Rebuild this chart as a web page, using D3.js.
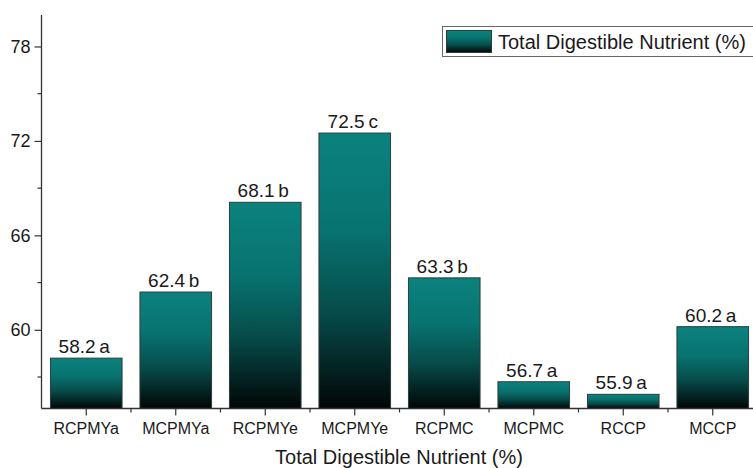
<!DOCTYPE html>
<html>
<head>
<meta charset="utf-8">
<script src="https://cdn.jsdelivr.net/npm/d3@7/dist/d3.min.js"></script>
<style>
  html, body { margin: 0; padding: 0; background: #fff; }
  svg { display: block; font-family: "Liberation Sans", Arial, sans-serif; }
</style>
</head>
<body>
<svg id="chart" width="753" height="468"></svg>
<script>
// Total digestible nutrient by treatment
const categories = ["RCPMYa", "MCPMYa", "RCPMYe", "MCPMYe", "RCPMC", "MCPMC", "RCCP", "MCCP"];
const values = [58.2, 62.4, 68.1, 72.5, 63.3, 56.7, 55.9, 60.2];
const groupLetters = ["a", "b", "b", "c", "b", "a", "a", "a"];
const yMajorTicks = [60, 66, 72, 78];
const yMinorTicks = [57, 63, 69, 75];
const seriesName = "Total Digestible Nutrient (%)";
const xTitle = "Total Digestible Nutrient (%)";

const svg = d3.select("#chart");
const axisX0 = 41.5, axisX1 = 757.5, axisYTop = 15, axisYBottom = 408.5;

const x = d3.scaleBand().domain(categories).range([axisX0, axisX1])
  .paddingInner(0.2).paddingOuter(0.1);
const y = d3.scaleLinear().domain([55, 80]).range([axisYBottom, axisYTop]);

// Vertical teal-to-black fill, stretched over each bar
const defs = svg.append("defs");
const grad = defs.append("linearGradient").attr("id", "barFill")
  .attr("x1", 0).attr("y1", 0).attr("x2", 0).attr("y2", 1);
grad.append("stop").attr("offset", "0%").attr("stop-color", "#0b827e");
grad.append("stop").attr("offset", "35%").attr("stop-color", "#087370");
grad.append("stop").attr("offset", "65%").attr("stop-color", "#064c4a");
grad.append("stop").attr("offset", "100%").attr("stop-color", "#010606");

const data = categories.map((c, i) => ({ c, v: values[i], g: groupLetters[i] }));

// Bars
svg.append("g").selectAll("rect").data(data).join("rect")
  .attr("x", d => x(d.c))
  .attr("y", d => y(d.v))
  .attr("width", x.bandwidth())
  .attr("height", d => y(55) - y(d.v))
  .attr("fill", "url(#barFill)")
  .attr("stroke", "#2f3b3b")
  .attr("stroke-width", 1);

// Value labels with significance letters
svg.append("g").selectAll("text").data(data).join("text")
  .attr("x", d => x(d.c) + x.bandwidth() / 2 - 2)
  .attr("y", d => y(d.v) - 5)
  .attr("text-anchor", "middle")
  .attr("font-size", 19)
  .attr("fill", "#1a1a1a")
  .text(d => d.v.toFixed(1) + "\u2009" + d.g);

// Y axis
const yAxis = svg.append("g").attr("transform", `translate(${axisX0},0)`);
yAxis.call(d3.axisLeft(y).tickValues(yMajorTicks).tickSize(7).tickPadding(4).tickFormat(d3.format("d")));
yAxis.select(".domain").attr("d", `M0,${axisYTop}V${axisYBottom}`).attr("stroke", "#333").attr("stroke-width", 1.3);
yAxis.selectAll(".tick line").attr("stroke", "#333").attr("stroke-width", 1.2);
yAxis.selectAll(".tick text").attr("font-size", 18).attr("fill", "#1a1a1a")
  .attr("font-family", "Liberation Sans, Arial, sans-serif");
yAxis.selectAll(".minor").data(yMinorTicks).join("line")
  .attr("x1", -4).attr("x2", 0)
  .attr("y1", d => y(d)).attr("y2", d => y(d))
  .attr("stroke", "#333").attr("stroke-width", 1.2);

// X axis
const xAxis = svg.append("g").attr("transform", `translate(0,${axisYBottom})`);
xAxis.call(d3.axisBottom(x).tickSize(7).tickPadding(7));
xAxis.select(".domain").attr("d", `M${axisX0},0H${axisX1}`).attr("stroke", "#333").attr("stroke-width", 1.3);
xAxis.selectAll(".tick line").attr("stroke", "#333").attr("stroke-width", 1.2);
xAxis.selectAll(".tick text").attr("font-size", 16).attr("fill", "#1a1a1a")
  .attr("font-family", "Liberation Sans, Arial, sans-serif");
xAxis.selectAll(".minor").data(categories.slice(1)).join("line")
  .attr("x1", d => x(d) - x.step() * x.paddingInner() / 2)
  .attr("x2", d => x(d) - x.step() * x.paddingInner() / 2)
  .attr("y1", 0).attr("y2", 4)
  .attr("stroke", "#333").attr("stroke-width", 1.2);

// Axis title
svg.append("text")
  .attr("x", 399).attr("y", 463.5)
  .attr("text-anchor", "middle")
  .attr("font-size", 20)
  .attr("fill", "#1a1a1a")
  .text(xTitle);

// Legend
const legend = svg.append("g");
legend.append("rect")
  .attr("x", 442.5).attr("y", 26.5).attr("width", 330).attr("height", 30)
  .attr("fill", "#fff").attr("stroke", "#666").attr("stroke-width", 1);
legend.append("rect")
  .attr("x", 446.5).attr("y", 30.5).attr("width", 45).attr("height", 22)
  .attr("fill", "url(#barFill)").attr("stroke", "#2f3b3b").attr("stroke-width", 1);
legend.append("text")
  .attr("x", 498).attr("y", 49)
  .attr("font-size", 20)
  .attr("fill", "#1a1a1a")
  .text(seriesName);
</script>
</body>
</html>
